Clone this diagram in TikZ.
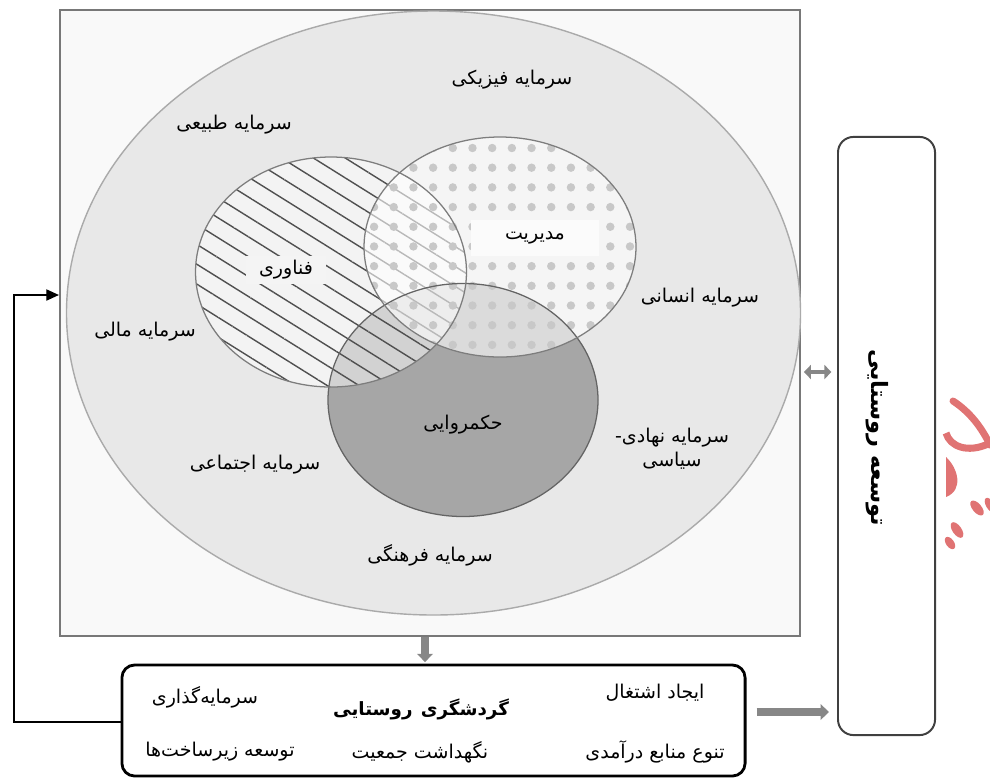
\documentclass[tikz,border=0pt]{standalone}
\usepackage{fontspec}
\newfontfamily\arabicfont[Script=Arabic]{DejaVu Sans}
\TeXXeTstate=1
\usetikzlibrary{arrows.meta, positioning, patterns.meta}
\definecolor{framegray}{RGB}{120,120,120}
\definecolor{framefill}{RGB}{249,249,249}
\definecolor{outerfill}{RGB}{232,232,232}
\definecolor{outerline}{RGB}{170,170,170}
\definecolor{govfill}{RGB}{166,166,166}
\definecolor{circline}{RGB}{125,125,125}
\definecolor{techbg}{RGB}{244,244,244}
\definecolor{dotgray}{RGB}{200,200,200}
\definecolor{hatchgray}{RGB}{80,80,80}
\definecolor{arrowgray}{RGB}{135,135,135}
\definecolor{markred}{RGB}{224,115,115}
\newcommand{\fatext}[1]{\beginR #1\endR}

\begin{document}
\begin{tikzpicture}[x=0.025cm, y=-0.025cm,
    lbl/.style={font=\arabicfont\fontsize{13.5}{17}\selectfont, inner sep=1pt, align=center},
    boldlbl/.style={font=\arabicfont\bfseries\fontsize{13}{15}\selectfont, inner sep=1pt},
    venn/.style={draw=circline, line width=0.9pt},
    fatarrow/.style={-{Triangle[length=6pt, width=11pt]}, line width=5.5pt, arrowgray},
    loop/.style={-{Triangle[length=9pt, width=8pt]}, line width=1pt, black}
]

\useasboundingbox (0,0) rectangle (990,778);

% capital frame and outer ellipse
\node[draw=framegray, line width=1.4pt, fill=framefill, minimum width=18.5cm, minimum height=15.65cm, inner sep=0pt] (frame) at (430,323) {};
\draw[draw=outerline, fill=outerfill, line width=1pt] (433.5,313) ellipse [x radius=367, y radius=302];

% three overlapping circles
\fill[govfill] (463,400) ellipse [x radius=135, y radius=116.5];
\fill[white, fill opacity=0.5] (331,272) ellipse [x radius=135.5, y radius=115];
\fill[pattern={Lines[angle=-32, distance=12pt, line width=1pt]}, pattern color=hatchgray] (331,272) ellipse [x radius=135.5, y radius=115];
\fill[white, fill opacity=0.6] (500,247) ellipse [x radius=136, y radius=110];
\fill[pattern={Dots[distance=14pt, radius=3pt]}, pattern color=dotgray] (500,247) ellipse [x radius=136, y radius=110];
\draw[venn, draw=circline!80!black] (463,400) ellipse [x radius=135, y radius=116.5];
\draw[venn] (331,272) ellipse [x radius=135.5, y radius=115];
\draw[venn] (500,247) ellipse [x radius=136, y radius=110];

% labels inside the frame
\node[lbl, fill=techbg, minimum width=2cm, minimum height=0.7cm] (techlbl) at (286,270) {\fatext{فناوری}};
\node[lbl, fill=white!60!techbg, minimum width=3.2cm, minimum height=0.9cm] (mgmt) at (535,238) {\fatext{مدیریت}};
\node[lbl] (govlbl) at (463,425) {\fatext{حکمروایی}};
\node[lbl] (physical) at (512,80) {\fatext{سرمایه فیزیکی}};
\node[lbl] (natural) at (234,125) {\fatext{سرمایه طبیعی}};
\node[lbl] (human) at (700,298) {\fatext{سرمایه انسانی}};
\node[lbl] (financial) at (145,332) {\fatext{سرمایه مالی}};
\node[lbl] (institutional) at (672,449) {\fatext{سرمایه نهادی-}\\\fatext{سیاسی}};
\node[lbl] (social) at (255,465) {\fatext{سرمایه اجتماعی}};
\node[lbl] (cultural) at (430,555) {\fatext{سرمایه فرهنگی}};

% rural tourism box
\node[draw=black, line width=2pt, rounded corners=9pt, fill=white, minimum width=15.575cm, minimum height=2.775cm, inner sep=0pt] (tour) at (433.5,720.5) {};
\node[boldlbl] (tourism) at (421,709) {\fatext{گردشگری\hspace{0.45em}روستایی}};
\node[lbl] (jobs) at (655,693) {\fatext{ایجاد اشتغال}};
\node[lbl] (invest) at (205,697) {\fatext{سرمایه^^^^200cگذاری}};
\node[lbl] (income) at (655,752) {\fatext{تنوع منابع درآمدی}};
\node[lbl] (population) at (420,752) {\fatext{نگهداشت جمعیت}};
\node[lbl] (infra) at (220,752) {\fatext{توسعه زیرساخت^^^^200cها}};

% rural development box
\node[draw=black!75, line width=1.4pt, rounded corners=11pt, fill=white, minimum width=2.425cm, minimum height=14.95cm, inner sep=0pt] (dev) at (886.5,436) {};
\node[boldlbl, font=\arabicfont\bfseries\fontsize{16}{18}\selectfont, rotate=-90] (devlbl) at (877,438) {\fatext{توسعه روستایی}};

% connectors
\coordinate (back) at (14,295);
\draw[loop] (tour.west |- 0,722) -| (back) -- (frame.west |- back);
\draw[fatarrow, shorten >=1pt] (frame.south -| 425,0) -- (tour.north -| 425,0);
\draw[fatarrow, shorten <=0.25cm, shorten >=0.2cm] (tour.east |- 0,712) -- (dev.west |- 0,712);
\draw[{Triangle[length=5pt, width=10pt]}-{Triangle[length=5pt, width=10pt]}, line width=3.5pt, arrowgray, shorten <=2pt, shorten >=4pt] (frame.east |- 0,372) -- (dev.west |- 0,372);

% stamp at the right edge
\draw[markred, line width=5pt, line cap=round] (953,401) .. controls (970,412) and (982,428) .. (990,445);
\draw[markred, line width=5pt] (946,433) .. controls (950,447) and (968,453) .. (988,444);
\fill[markred] (946,457) .. controls (958,468) and (964,490) .. (946,497) -- cycle;
\fill[markred, rotate around={-50:(977,508)}] (977,508) ellipse [x radius=9, y radius=4.5];
\fill[markred, rotate around={-60:(990,505)}] (990,505) ellipse [x radius=8, y radius=4];
\fill[markred, rotate around={-55:(957,530)}] (957,530) ellipse [x radius=9, y radius=4.5];
\fill[markred, rotate around={-55:(950,543)}] (950,543) ellipse [x radius=7, y radius=4];

\end{tikzpicture}
\end{document}
